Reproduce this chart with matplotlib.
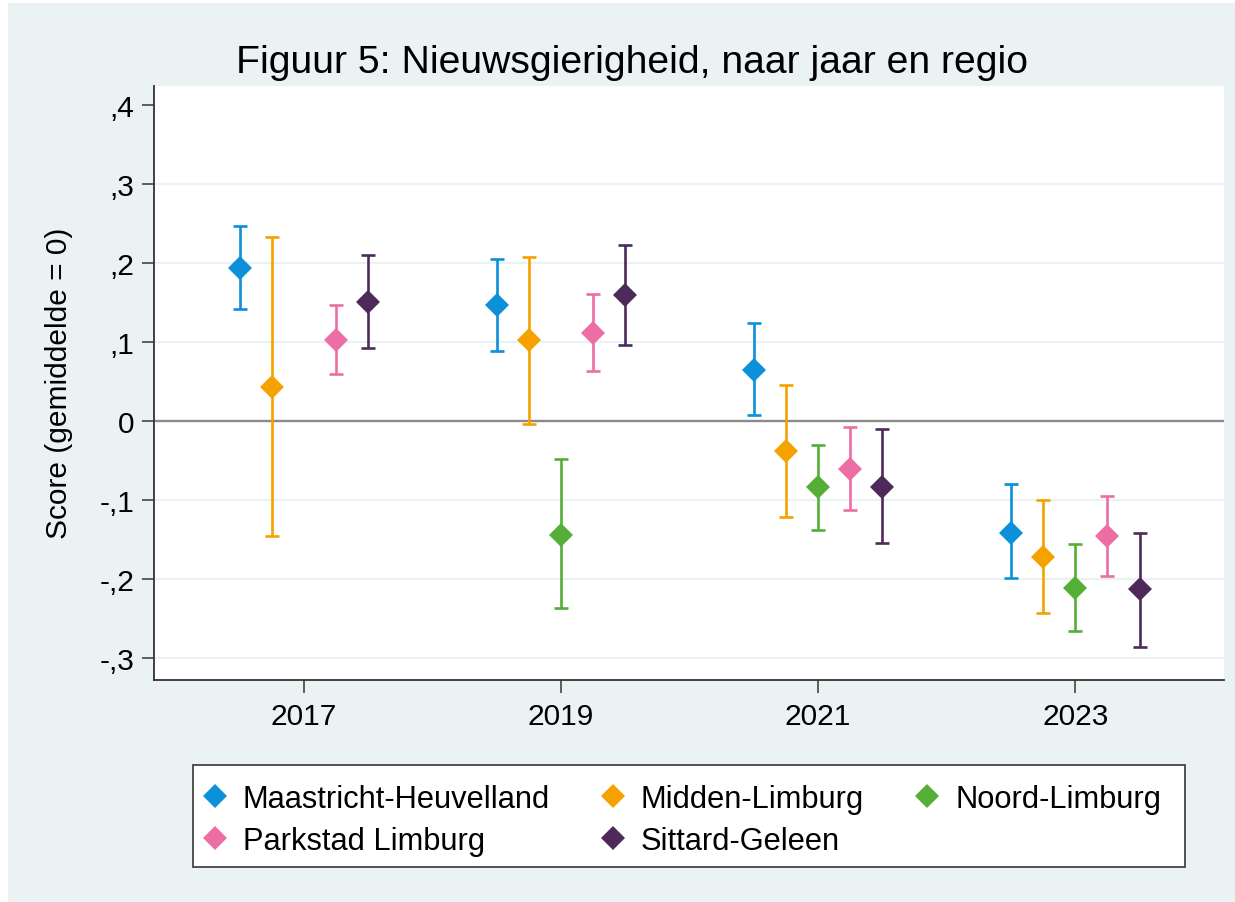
import numpy as np
import matplotlib
matplotlib.use("Agg")
import matplotlib.pyplot as plt
from matplotlib.patches import Rectangle
from matplotlib.lines import Line2D

plt.rcParams['font.family'] = ['Liberation Sans', 'DejaVu Sans']

years = [2017, 2019, 2021, 2023]
regions = ["Maastricht-Heuvelland", "Midden-Limburg", "Noord-Limburg",
           "Parkstad Limburg", "Sittard-Geleen"]
colors = ["#0b90d9", "#f5a100", "#55ae36", "#ec6ea5", "#4e2a5a"]
offsets = [-0.5, -0.25, 0.0, 0.25, 0.5]

# mean, lower bound, upper bound per year (nan = no data)
maastricht_mean = [0.194, 0.147, 0.065, -0.141]
maastricht_lo = [0.142, 0.089, 0.008, -0.199]
maastricht_hi = [0.247, 0.205, 0.124, -0.080]

midden_mean = [0.043, 0.102, -0.038, -0.172]
midden_lo = [-0.145, -0.004, -0.121, -0.243]
midden_hi = [0.233, 0.207, 0.046, -0.100]

noord_mean = [np.nan, -0.144, -0.084, -0.211]
noord_lo = [np.nan, -0.237, -0.138, -0.266]
noord_hi = [np.nan, -0.048, -0.030, -0.155]

parkstad_mean = [0.102, 0.112, -0.061, -0.146]
parkstad_lo = [0.059, 0.063, -0.112, -0.196]
parkstad_hi = [0.147, 0.161, -0.008, -0.095]

sittard_mean = [0.151, 0.159, -0.083, -0.213]
sittard_lo = [0.093, 0.096, -0.154, -0.286]
sittard_hi = [0.210, 0.223, -0.010, -0.141]

means = [maastricht_mean, midden_mean, noord_mean, parkstad_mean, sittard_mean]
lows = [maastricht_lo, midden_lo, noord_lo, parkstad_lo, sittard_lo]
highs = [maastricht_hi, midden_hi, noord_hi, parkstad_hi, sittard_hi]

yticks = [0.4, 0.3, 0.2, 0.1, 0.0, -0.1, -0.2, -0.3]
ytick_labels = [",4", ",3", ",2", ",1", "0", "-,1", "-,2", "-,3"]

W, H = 1235, 903
bg = "#eaf2f3"
fig = plt.figure(figsize=(W / 100, H / 100), dpi=100, facecolor="white")
fig.patches.append(Rectangle((8 / W, 0), 1, 1 - 4 / H, transform=fig.transFigure,
                             facecolor=bg, edgecolor="none", zorder=-10))

ax = fig.add_axes([154 / W, 1 - 680.5 / H, 1070 / W, 593.5 / H])
ax.set_facecolor("white")

for t in yticks:
    if t == 0.0:
        ax.axhline(t, color="#8a8a8a", lw=1.7, zorder=1)
    elif t != 0.4:
        ax.axhline(t, color=bg, lw=1.6, zorder=0)

handles = []
for i in range(len(regions)):
    x = np.array(years) + offsets[i]
    m = np.array(means[i])
    lo = np.array(lows[i])
    hi = np.array(highs[i])
    ax.errorbar(x, m, yerr=[m - lo, hi - m], fmt="none", ecolor=colors[i],
                elinewidth=1.9, capsize=5.2, capthick=1.9, zorder=3)
    ax.plot(x, m, linestyle="none", marker="D", ms=11.8, color=colors[i],
            markeredgewidth=0, zorder=4)
    handles.append(Line2D([], [], linestyle="none", marker="D", ms=11.8,
                          color=colors[i], markeredgewidth=0))

ax.set_xlim(2015.835, 2024.157)
ax.set_ylim(-0.327, 0.424)
ax.set_xticks(years)
ax.set_xticklabels([str(y) for y in years])
ax.set_yticks(yticks)
ax.set_yticklabels(ytick_labels)
ax.tick_params(axis="both", labelsize=21.5, length=9, width=1.2, color="#444444")
ax.tick_params(axis="y", pad=5)
ax.tick_params(axis="x", pad=7)

for s in ["top", "right"]:
    ax.spines[s].set_visible(False)
for s in ["left", "bottom"]:
    ax.spines[s].set_color("#333333")
    ax.spines[s].set_linewidth(1.3)

ax.set_ylabel("Score (gemiddelde = 0)", fontsize=21.5)
ax.yaxis.set_label_coords((73 - 154) / 1070, 0.5)

fig.text(632 / W, 1 - 73 / H, "Figuur 5: Nieuwsgierigheid, naar jaar en regio",
         fontsize=28.2, ha="center", va="baseline")

# legend box drawn separately, legend content placed inside it
fig.patches.append(Rectangle((193 / W, 1 - 868 / H), 992 / W, 102 / H,
                             transform=fig.transFigure, facecolor="white",
                             edgecolor="#444444", lw=1.3, zorder=1))
order = [0, 3, 1, 4, 2]
leg = fig.legend([handles[k] for k in order], [regions[k] for k in order],
                 ncol=3, loc="upper left",
                 bbox_to_anchor=(199.5 / W, 1 - 785 / H),
                 fontsize=22.2, frameon=False, handlelength=1.0,
                 handletextpad=0.4, borderpad=0, labelspacing=0.38,
                 columnspacing=1.55, borderaxespad=0)

fig.savefig("out.png", dpi=100)
